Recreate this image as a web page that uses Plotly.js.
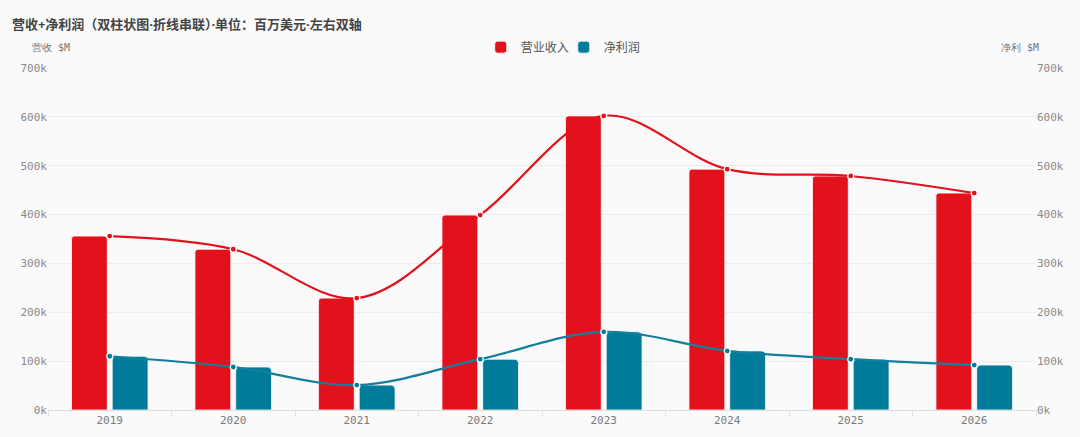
<!DOCTYPE html>
<html>
<head>
<meta charset="utf-8">
<script src="https://cdn.plot.ly/plotly-3.0.1.min.js"></script>
<style>
  html, body { margin: 0; padding: 0; background: #fafafa; }
  #chart { width: 1080px; height: 437px; }
</style>
</head>
<body>
<div id="chart"></div>
<script>
// ── data ──────────────────────────────────────────────
const years = ['2019', '2020', '2021', '2022', '2023', '2024', '2025', '2026'];
const revenue = [356, 329, 229, 399, 602, 493, 479, 444].map(v => v * 1000);
const netProfit = [110, 88, 51, 104, 160, 121, 104, 92].map(v => v * 1000);
const tickVals = [0, 100000, 200000, 300000, 400000, 500000, 600000, 700000];
const tickText = ['0k', '100k', '200k', '300k', '400k', '500k', '600k', '700k'];

// ── style ─────────────────────────────────────────────
const RED = '#e3111b';
const TEAL = '#007b99';
const MONO = '"DejaVu Sans Mono", monospace';
const CJK = '"Noto Sans", "Noto Sans CJK SC", sans-serif';

const yBase = {
    range: [0, 700000], tickvals: tickVals, ticktext: tickText,
    gridcolor: '#ececec', zeroline: false, showline: false,
    tickfont: { family: MONO, size: 11, color: '#8a8a8a' }, fixedrange: true
};

const traces = [
    {
        x: years, y: revenue, type: 'bar', name: '营业收入',
        marker: { color: RED, line: { color: '#ffffff', width: 0.8 }, cornerradius: 3 },
        hoverinfo: 'none'
    },
    {
        x: years, y: netProfit, type: 'bar', name: '净利润',
        marker: { color: TEAL, line: { color: '#ffffff', width: 0.8 }, cornerradius: 4 },
        hoverinfo: 'none'
    },
    {
        x: years, y: revenue, type: 'scatter', mode: 'lines+markers',
        line: { color: RED, width: 2.2, shape: 'spline', smoothing: 1 },
        marker: { color: RED, size: 6, line: { color: '#ffffff', width: 1.2 } },
        showlegend: false, hoverinfo: 'none'
    },
    {
        x: years, y: netProfit, type: 'scatter', mode: 'lines+markers', yaxis: 'y2',
        line: { color: '#137f9c', width: 2.2, shape: 'spline', smoothing: 1 },
        marker: { color: TEAL, size: 6, line: { color: '#ffffff', width: 1.2 } },
        showlegend: false, hoverinfo: 'none'
    }
];

const layout = {
    width: 1080, height: 437,
    paper_bgcolor: '#fafafa', plot_bgcolor: '#fafafa',
    margin: { l: 48, r: 44, t: 68, b: 27 },
    barmode: 'group', bargap: 0.34, bargroupgap: 0.12,
    font: { family: CJK, color: '#555' },
    title: {
        text: '<b>营收+净利润（双柱状图·折线串联）·单位：百万美元·左右双轴</b>',
        x: 0.011, xanchor: 'left', y: 0.945, yanchor: 'middle',
        font: { family: CJK, size: 13, color: '#444' }
    },
    legend: {
        orientation: 'h', x: 0.522, xanchor: 'center', y: 1.061, yanchor: 'middle',
        font: { family: CJK, size: 12, color: '#555' }, bgcolor: 'rgba(0,0,0,0)',
        itemwidth: 30, entrywidth: 38
    },
    xaxis: {
        type: 'category', showgrid: false, zeroline: false,
        showline: true, linecolor: '#dddddd', linewidth: 1,
        ticks: 'outside', tickson: 'boundaries', ticklen: 5, tickcolor: '#e2e2e2',
        tickfont: { family: MONO, size: 11, color: '#7a7a7a' }, fixedrange: true
    },
    yaxis: { ...yBase, side: 'left' },
    yaxis2: { ...yBase, side: 'right', overlaying: 'y', showgrid: false },
    annotations: [
        {
            text: '营收 $M', xref: 'paper', yref: 'paper', x: -0.018, y: 1.061,
            xanchor: 'left', yanchor: 'middle', showarrow: false,
            font: { family: MONO, size: 10, color: '#777' }
        },
        {
            text: '净利 $M', xref: 'paper', yref: 'paper', x: 1.005, y: 1.061,
            xanchor: 'right', yanchor: 'middle', showarrow: false,
            font: { family: MONO, size: 10, color: '#777' }
        }
    ],
    showlegend: true
};

Plotly.newPlot('chart', traces, layout, { displayModeBar: false, staticPlot: true });
</script>
</body>
</html>
